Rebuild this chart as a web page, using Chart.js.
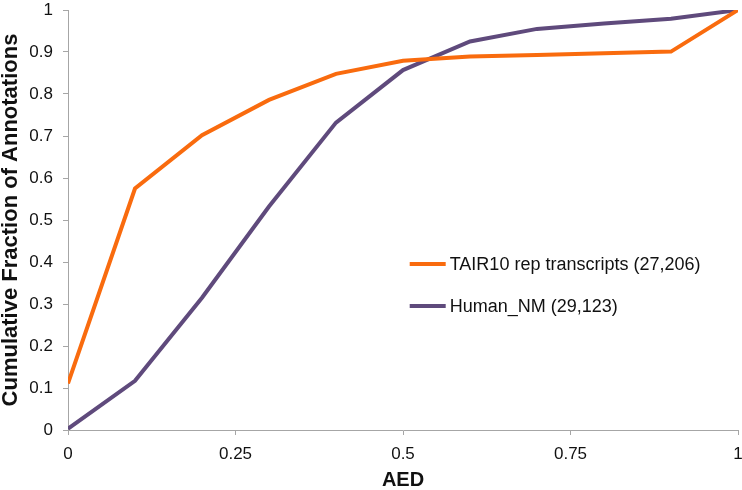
<!DOCTYPE html>
<html>
<head>
<meta charset="utf-8">
<script src="https://cdn.jsdelivr.net/npm/chart.js@4.4.1/dist/chart.umd.min.js"></script>
<style>
  html, body { margin: 0; padding: 0; background: #fff; }
  #wrap { width: 742px; height: 490px; }
</style>
</head>
<body>
<div id="wrap"><canvas id="chart" width="742" height="490"></canvas></div>
<script>
// AED bins and cumulative fractions
const aed = [0, 0.1, 0.2, 0.3, 0.4, 0.5, 0.6, 0.7, 0.8, 0.9, 1.0];
const tair10 = [0.111, 0.575, 0.702, 0.786, 0.848, 0.879, 0.889, 0.893, 0.897, 0.901, 1.0];
const humanNM = [0.003, 0.117, 0.315, 0.532, 0.732, 0.857, 0.925, 0.955, 0.968, 0.979, 1.0];
const seriesLabels = ['TAIR10 rep transcripts (27,206)', 'Human_NM (29,123)'];

const axisGrey = '#a6a6a6';
const font = 'Liberation Sans, Arial, sans-serif';

function toPoints(ys) {
    return aed.map((x, i) => ({ x: x, y: ys[i] }));
}

// legend drawn inside the plot area, like the original
const insideLegend = {
    id: 'insideLegend',
    afterDatasetsDraw(chart) {
        const ctx = chart.ctx;
        const xs = chart.scales.x;
        const ys = chart.scales.y;
        const left = xs.getPixelForValue(0.51);
        const rows = [ys.getPixelForValue(0.395), ys.getPixelForValue(0.295)];
        ctx.save();
        ctx.font = '18px ' + font;
        ctx.textBaseline = 'middle';
        chart.data.datasets.forEach((ds, i) => {
            ctx.strokeStyle = ds.borderColor;
            ctx.lineWidth = 4;
            ctx.beginPath();
            ctx.moveTo(left, rows[i]);
            ctx.lineTo(left + 36, rows[i]);
            ctx.stroke();
            ctx.fillStyle = '#111';
            ctx.fillText(ds.label, left + 40, rows[i] + 1);
        });
        ctx.restore();
    }
};

const ctx = document.getElementById('chart').getContext('2d');
const chart = new Chart(ctx, {
    type: 'line',
    data: {
        datasets: [
            {
                label: seriesLabels[0],
                data: toPoints(tair10),
                borderColor: '#f96b0e',
                borderWidth: 4,
                pointRadius: 0,
                tension: 0
            },
            {
                label: seriesLabels[1],
                data: toPoints(humanNM),
                borderColor: '#5f4a7c',
                borderWidth: 4,
                pointRadius: 0,
                tension: 0
            }
        ]
    },
    options: {
        responsive: false,
        animation: false,
        layout: { padding: { top: 10, right: 4, left: 0, bottom: 0 } },
        plugins: {
            legend: { display: false },
            tooltip: { enabled: false }
        },
        scales: {
            x: {
                type: 'linear',
                min: 0,
                max: 1,
                afterFit: s => {
                    s.height = 60;
                    s.paddingLeft = 0;
                    s.paddingRight = 0;
                },
                ticks: {
                    stepSize: 0.25,
                    color: '#111',
                    font: { family: font, size: 17 },
                    padding: 9,
                    maxRotation: 0,
                    callback: v => String(v)
                },
                grid: { drawOnChartArea: false, color: axisGrey, tickLength: 5 },
                border: { color: axisGrey, width: 1 },
                title: {
                    display: true,
                    text: 'AED',
                    color: '#111',
                    font: { family: font, size: 20, weight: 'bold', lineHeight: 1 },
                    padding: { top: 0, bottom: 0 }
                }
            },
            y: {
                min: 0,
                max: 1,
                afterFit: s => {
                    s.width = 68;
                    s.paddingTop = 0;
                    s.paddingBottom = 0;
                },
                ticks: {
                    stepSize: 0.1,
                    color: '#111',
                    font: { family: font, size: 17 },
                    padding: 10,
                    callback: v => String(Math.round(v * 10) / 10)
                },
                grid: { drawOnChartArea: false, color: axisGrey, tickLength: 5 },
                border: { color: axisGrey, width: 1 },
                title: {
                    display: true,
                    text: 'Cumulative Fraction of Annotations',
                    color: '#111',
                    font: { family: font, size: 22, weight: 'bold', lineHeight: 1 },
                    padding: { top: 0, bottom: 0 }
                }
            }
        }
    },
    plugins: [insideLegend]
});
</script>
</body>
</html>
